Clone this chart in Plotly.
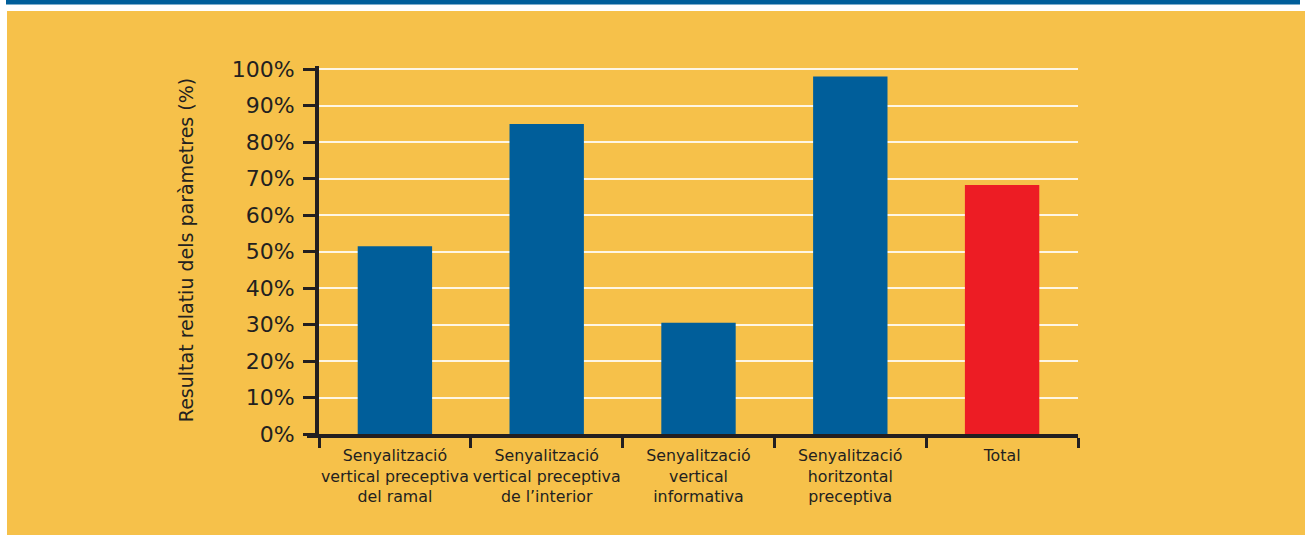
import plotly.graph_objects as go

categories = [
    "Senyalització<br>vertical preceptiva<br>del ramal",
    "Senyalització<br>vertical preceptiva<br>de l’interior",
    "Senyalització<br>vertical<br>informativa",
    "Senyalització<br>horitzontal<br>preceptiva",
    "Total",
]
values = [51.5, 85.0, 30.5, 98.0, 68.3]
bar_colors = ["#005E9A", "#005E9A", "#005E9A", "#005E9A", "#ED1C24"]
y_tick_vals = [0, 10, 20, 30, 40, 50, 60, 70, 80, 90, 100]
y_tick_text = ["0%", "10%", "20%", "30%", "40%", "50%", "60%", "70%", "80%", "90%", "100%"]
y_title = "Resultat relatiu dels paràmetres (%)"

ORANGE = "#F6C14A"
INK = "#231F20"
BLUE = "#005E9A"

W, H = 1305, 535
L, R, T, B = 319, 1078, 66, 434
pw, ph = R - L, B - T


def px(x):
    return (x - L) / pw


def py(y):
    return (B - y) / ph


fig = go.Figure(
    go.Bar(
        x=categories,
        y=values,
        marker=dict(color=bar_colors, line=dict(width=0)),
        width=0.49,
    )
)

shapes = [
    # white background + orange panel
    dict(type="rect", xref="paper", yref="paper", x0=px(0), x1=px(W), y0=py(0), y1=py(H),
         fillcolor="white", line=dict(width=0), layer="below"),
    dict(type="rect", xref="paper", yref="paper", x0=px(7), x1=px(W), y0=py(11), y1=py(H),
         fillcolor=ORANGE, line=dict(width=0), layer="below"),
    # top blue band
    dict(type="rect", xref="paper", yref="paper", x0=px(6), x1=px(1300), y0=py(0), y1=py(4.5),
         fillcolor=BLUE, line=dict(width=0), layer="below"),
    # x axis line extension to the left of y axis
    dict(type="line", xref="paper", yref="paper", x0=px(307), x1=0, y0=py(436), y1=py(436),
         line=dict(color=INK, width=4)),
]

fig.update_layout(
    width=W,
    height=H,
    margin=dict(l=L, r=W - R, t=T, b=H - B, pad=0, autoexpand=False),
    paper_bgcolor=ORANGE,
    plot_bgcolor=ORANGE,
    showlegend=False,
    shapes=shapes,
    bargap=0.5,
    font=dict(family="DejaVu Sans", color=INK),
    xaxis=dict(
        automargin=False, tickangle=0,
        showline=True, linecolor=INK, linewidth=4,
        ticks="outside", tickson="boundaries", ticklen=10, tickwidth=3, tickcolor=INK,
        tickfont=dict(size=15.8, color=INK), ticklabelstandoff=4,
        showgrid=False, zeroline=False,
    ),
    yaxis=dict(
        automargin=False,
        range=[0, 100.9],
        tickvals=y_tick_vals, ticktext=y_tick_text,
        showline=True, linecolor=INK, linewidth=4,
        ticks="outside", ticklen=12, tickwidth=3, tickcolor=INK,
        tickfont=dict(size=22, color=INK), ticklabelstandoff=4,
        showgrid=True, gridcolor="rgba(255,255,255,0.85)", gridwidth=1.5,
        zeroline=False,
        title=dict(text=y_title, font=dict(size=19, color=INK), standoff=34),
    ),
)

fig.write_html("out.html")
